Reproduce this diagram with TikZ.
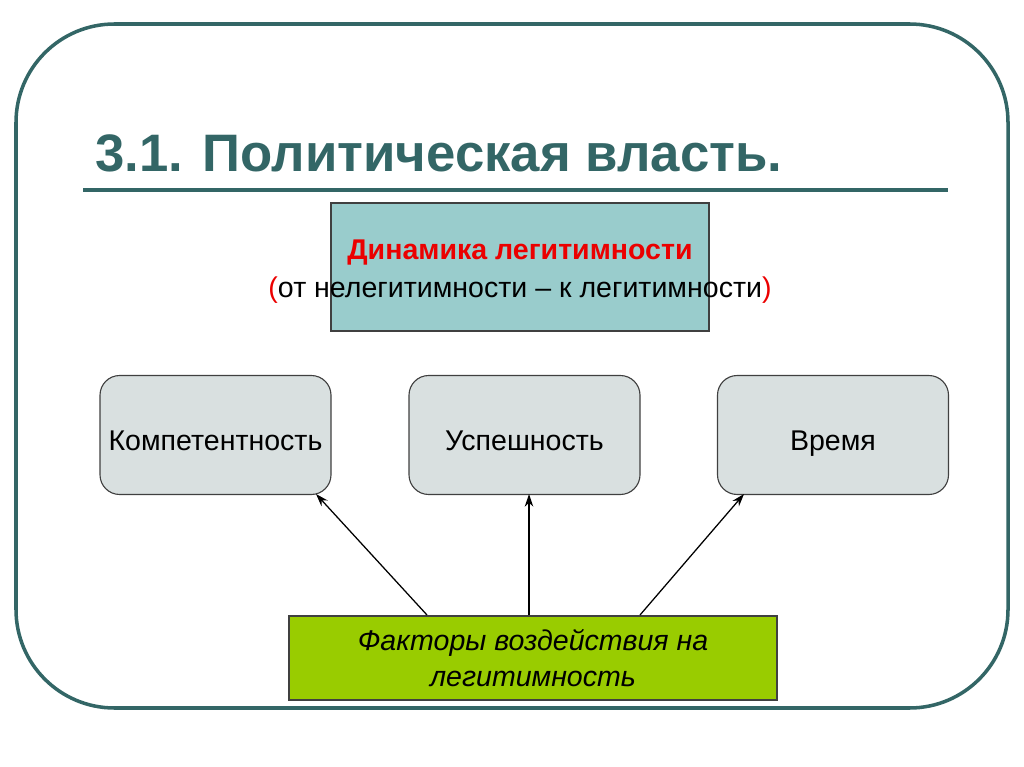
\documentclass[tikz,border=0pt]{standalone}
\usepackage{fontspec}
\setmainfont{Liberation Sans}
\usetikzlibrary{positioning,arrows.meta}
\definecolor{tealdark}{RGB}{51,102,102}
\definecolor{boxcyan}{RGB}{153,204,204}
\definecolor{boxgrey}{RGB}{217,224,224}
\definecolor{boxgreen}{RGB}{153,204,0}
\definecolor{titlered}{RGB}{235,0,0}
\tikzset{
	factorbox/.style = {draw=black!75, fill=boxgrey, rounded corners=14, line width=0.8pt,
		minimum width=231*0.025cm, minimum height=119*0.025cm,
		text height=23pt, text depth=0.5pt,
		font=\fontsize{20.3}{24}\selectfont},
	dynbox/.style = {draw=black!75, fill=boxcyan, line width=0.8pt,
		minimum width=378*0.025cm, minimum height=128*0.025cm},
	sourcebox/.style = {draw=black!75, fill=boxgreen, line width=0.8pt,
		minimum width=488*0.025cm, minimum height=84*0.025cm, align=center,
		font=\fontsize{20.3}{26}\selectfont\itshape},
	influence/.style = {-{Stealth[length=9pt,width=6pt]}, line width=0.9pt}
}
\begin{document}
\begin{tikzpicture}[x=0.025cm, y=-0.025cm]
\useasboundingbox (0,0) rectangle (1024,767);

% FRAME, TITLE
\draw [tealdark, line width=2.5pt, rounded corners=70] (16,24) rectangle (1008,708);
\node (title) [anchor=base west, inner sep=0, text=tealdark, font=\fontsize{37.5}{42}\selectfont\bfseries] at (95,172) {3.1. Политическая власть.};
\draw [tealdark, line width=2.8pt] (83,190) -- (948,190);

% NODES

% dynamics
\node (dyn) [dynbox] at (520,267) {};
\node (dynhead) [text=titlered, font=\fontsize{20.3}{24}\selectfont\bfseries] at (520,253) {Динамика легитимности};
\node (dynsub) [font=\fontsize{20.3}{24}\selectfont] at (520,290) {\textcolor{titlered}{(}от нелегитимности – к легитимности\textcolor{titlered}{)}};

% factors
\node (comp) [factorbox] at (215.5,435) {Компетентность};
\node (succ) [factorbox] at (524.5,435) {Успешность};
\node (time) [factorbox] at (833,435) {Время};

% source
\node (src) [sourcebox] at (533,658) {Факторы воздействия на\\легитимность};
\coordinate (srcleft) at (427,615);
\coordinate (srcmid) at (529,615);
\coordinate (srcright) at (640,615);
\coordinate (compin) at (316,494);
\coordinate (succin) at (529,494);
\coordinate (timein) at (744,494);

%CONNECTIONS
\draw [influence] (srcleft) -- (compin);
\draw [influence] (srcmid) -- (succin);
\draw [influence] (srcright) -- (timein);

\end{tikzpicture}
\end{document}
